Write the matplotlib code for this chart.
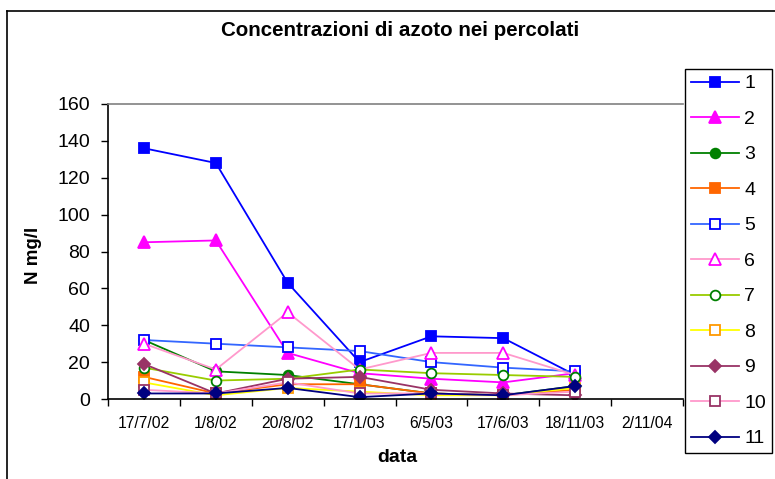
import numpy as np
import matplotlib
matplotlib.use("Agg")
import matplotlib.pyplot as plt
from matplotlib.lines import Line2D

plt.rcParams['font.family'] = ['Liberation Sans', 'DejaVu Sans']

categories = ["17/7/02", "1/8/02", "20/8/02", "17/1/03", "6/5/03", "17/6/03", "18/11/03", "2/11/04"]
nan = np.nan
s1 = [136, 128, 63, 20, 34, 33, 13, nan]
s2 = [85, 86, 25, 14, 11, 9, 14, nan]
s3 = [32, 15, 13, 8, 3, 2, 7, nan]
s4 = [12, 3, 8, 8, 3, 2, 5, nan]
s5 = [32, 30, 28, 26, 20, 17, 15, nan]
s6 = [30, 16, 47, 16, 25, 25, 13, nan]
s7 = [17, 10, 11, 16, 14, 13, 12, nan]
s8 = [9, 2, 6, 4, 2, 2, 6, nan]
s9 = [19, 3, 11, 12, 5, 3, 2, nan]
s10 = [5, 3, 9, 3, 3, 2, 4, nan]
s11 = [3, 3, 6, 1, 3, 2, 7, nan]
series_names = ["1", "2", "3", "4", "5", "6", "7", "8", "9", "10", "11"]
series_values = [s1, s2, s3, s4, s5, s6, s7, s8, s9, s10, s11]

# (line colour, marker, marker face, marker edge)
styles = [
    ("#0000FF", "s", "#0000FF", "#0000FF"),
    ("#FF00FF", "^", "#FF00FF", "#FF00FF"),
    ("#008000", "o", "#008000", "#008000"),
    ("#FF6600", "s", "#FF6600", "#FF6600"),
    ("#3366FF", "s", "white", "#0000FF"),
    ("#FF99CC", "^", "white", "#FF00FF"),
    ("#99CC00", "o", "white", "#008000"),
    ("#FFFF00", "s", "white", "#FF9900"),
    ("#993366", "D", "#993366", "#993366"),
    ("#FF99CC", "s", "white", "#993366"),
    ("#000080", "D", "#000080", "#000080"),
]

W, H = 775, 479
fig = plt.figure(figsize=(W / 100, H / 100), dpi=100)
ax = fig.add_axes([108 / W, 1 - 399 / H, (683 - 108) / W, (399 - 104) / H])

x = np.arange(len(categories))
handles = []
for name, vals, (lc, mk, mf, me) in zip(series_names, series_values, styles):
    ms = 7 if mk != "D" else 6.5
    if mk == "^":
        ms = 8
    h, = ax.plot(x, vals, color=lc, lw=1.3, marker=mk, markersize=ms,
                 markerfacecolor=mf, markeredgecolor=me, markeredgewidth=1.3,
                 label=name)
    handles.append(h)

ax.set_xlim(-0.5, len(categories) - 0.5)
ax.set_ylim(0, 160)
ax.set_yticks(np.arange(0, 161, 20))
ax.tick_params(axis='y', labelsize=14, length=5, width=1, pad=8, direction='out')

ax.set_xticks(np.arange(-0.5, len(categories), 1.0))
ax.set_xticklabels([])
ax.tick_params(axis='x', which='major', length=5, width=1, direction='out')
ax.set_xticks(x, minor=True)
ax.set_xticklabels(categories, minor=True)
ax.tick_params(axis='x', which='minor', length=0, labelsize=11.3, pad=12)

for s in ['left', 'bottom']:
    ax.spines[s].set_color('black')
    ax.spines[s].set_linewidth(1.2)
ax.spines['top'].set_color('#808080')
ax.spines['top'].set_linewidth(1.2)
ax.spines['right'].set_visible(False)

fig.text(400 / W, 1 - 30 / H, "Concentrazioni di azoto nei percolati",
         ha='center', va='center', fontsize=14.8, fontweight='bold')
fig.text(33 / W, 1 - 255 / H, "N mg/l", ha='center', va='center',
         rotation=90, fontsize=13.5, fontweight='bold')
fig.text(397 / W, 1 - 458 / H, "data", ha='center', va='center',
         fontsize=14, fontweight='bold')

leg = fig.legend(handles=handles, loc='upper left',
                 bbox_to_anchor=(685 / W, 1 - 69 / H), bbox_transform=fig.transFigure,
                 borderaxespad=0, fontsize=14, frameon=True, fancybox=False,
                 edgecolor='black', framealpha=1, handlelength=2.5,
                 handletextpad=0.25, labelspacing=0.92, borderpad=0.3)
leg.get_frame().set_linewidth(1.0)

# outer chart frame
fig.add_artist(Line2D([7 / W, 1.01], [1 - 11 / H, 1 - 11 / H], color='black',
                      lw=1.2, transform=fig.transFigure))
fig.add_artist(Line2D([7 / W, 7 / W], [1 - 11 / H, -0.01], color='black',
                      lw=1.2, transform=fig.transFigure))

fig.savefig("out.png", dpi=100)
